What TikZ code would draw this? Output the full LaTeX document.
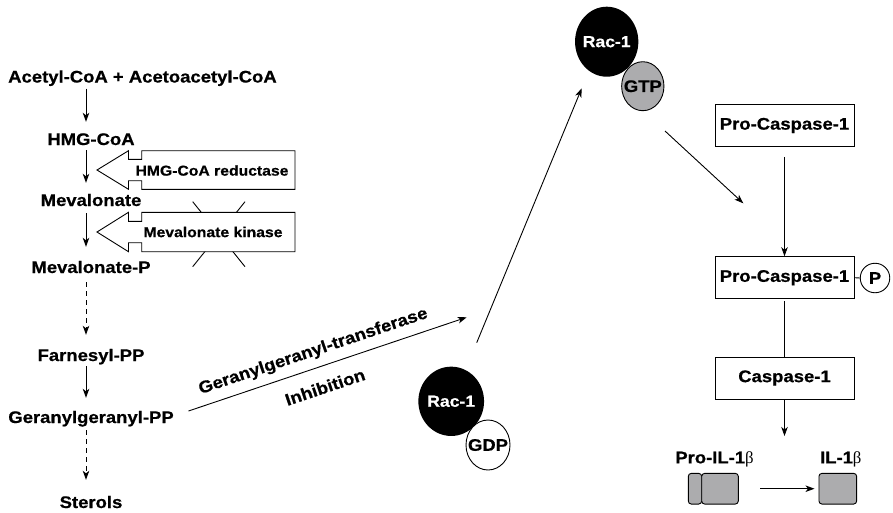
\documentclass[tikz,border=0pt]{standalone}
\usepackage{fontspec}
\setmainfont[FakeStretch=1.1, BoldFeatures={FakeBold=0.6}]{Liberation Sans}
\newfontfamily\betafont{Liberation Serif}
\usetikzlibrary{arrows.meta,shapes.geometric,calc}
\definecolor{gtpgray}{RGB}{172,172,174}
\begin{document}
\begin{tikzpicture}[x=1pt,y=-1pt,
  lbl/.style={font=\fontsize{16.8}{19}\selectfont\bfseries, inner sep=0pt},
  col/.style={lbl, anchor=base, text height=12.5pt, text depth=3.5pt},
  enz/.style={font=\fontsize{14.3}{17}\selectfont\bfseries, inner sep=0pt},
  rac/.style={font=\fontsize{16}{19}\selectfont\bfseries, inner sep=0pt, text=white},
  arr/.style={-{Stealth[length=9pt,width=6.5pt,inset=2.5pt]}, line width=0.9pt},
  dasharr/.style={arr, dash pattern=on 5pt off 4pt},
  ln/.style={line width=0.9pt},
  enzarrow/.style={line width=0.9pt, fill=white, line join=miter},
  box/.style={draw, line width=0.9pt, minimum width=139pt, minimum height=42pt, lbl},
  blob/.style={ellipse, inner sep=0pt},
  prot/.style={draw, line width=0.9pt, fill=gtpgray, rounded corners=3pt, minimum height=30.7pt, inner sep=0pt}]
\useasboundingbox (0,0) rectangle (893,512);

% ---------- mevalonate pathway ----------
\coordinate (colx) at (86,0);
\node[col, anchor=base west] (acetyl) at (8,82.5) {Acetyl-CoA + Acetoacetyl-CoA};
\node[col] (hmg) at (91,145) {HMG-CoA};
\node[col] (mev) at (91,206) {Mevalonate};
\node[col] (mevp) at (91,273) {Mevalonate-P};
\node[col] (farn) at (91,361) {Farnesyl-PP};
\node[col] (ger) at (91,423) {Geranylgeranyl-PP};
\node[col] (sterols) at (91,508) {Sterols};

\draw[arr, shorten <=2.5pt, shorten >=10.5pt] (acetyl.south -| colx) -- (hmg.north -| colx);
\draw[arr, shorten <=1.5pt, shorten >=10.5pt] (hmg.south -| colx) -- (mev.north -| colx);
\draw[arr, shorten <=3.5pt, shorten >=13.5pt] (mev.south -| colx) -- (mevp.north -| colx);
\draw[dasharr, shorten <=5.5pt, shorten >=13.5pt] (mevp.south -| colx) -- (farn.north -| colx);
\draw[arr, shorten <=1.5pt, shorten >=12.5pt] (farn.south -| colx) -- (ger.north -| colx);
\draw[dasharr, shorten <=3.5pt, shorten >=15.5pt] (ger.south -| colx) -- (sterols.north -| colx);

% enzyme block arrows
\draw[enzarrow] (97,170) -- (128.5,150.7) -- (128.5,159.3) -- (141.7,159.3) -- (141.7,150.7)
  -- (295,150.7) -- (295,189.3) -- (141.7,189.3) -- (141.7,180.7) -- (128.5,180.7)
  -- (128.5,189.3) -- cycle;
\node[enz] (hmgr) at (212,170.5) {HMG-CoA reductase};

\draw[ln] (192.7,201.7) -- (245,266.7);
\draw[ln] (245,201.7) -- (192.7,266.7);
\draw[enzarrow] (97,232) -- (128.5,212.3) -- (128.5,221.3) -- (141.7,221.3) -- (141.7,212.3)
  -- (295,212.3) -- (295,251.7) -- (141.7,251.7) -- (141.7,242.7) -- (128.5,242.7)
  -- (128.5,251.7) -- cycle;
\node[enz] (mk) at (213,232) {Mevalonate kinase};

% ---------- geranylgeranyl-transferase ----------
\coordinate (ggend) at (466.7,317.3);
\draw[arr] ([xshift=14.6pt,yshift=7.5pt]ger.east) -- (ggend);
\node[lbl, rotate=18.6] (ggt) at (313.3,351.7) {Geranylgeranyl-transferase};
\node[lbl, rotate=18.6] (inh) at (325,387) {Inhibition};

% ---------- Rac-1 ----------
\node[blob, fill=black, minimum width=65.7pt, minimum height=69.3pt] (racB) at (451.2,401.3) {};
\node[rac] (racBt) at (racB) {Rac-1};
\node[blob, draw, ln, fill=white, minimum width=44pt, minimum height=50pt] (gdp) at (488,445) {};
\node[lbl] (gdpt) at (gdp) {GDP};

\node[blob, fill=black, minimum width=63.3pt, minimum height=70pt] (racA) at (606.7,41.7) {};
\node[rac] (racAt) at (racA) {Rac-1};
\node[blob, draw, ln, fill=gtpgray, minimum width=42.3pt, minimum height=49pt] (gtp) at (642.8,86.2) {};
\node[lbl] (gtpt) at (gtp) {GTP};

\coordinate (r1) at (476.7,342.7);
\coordinate (r2) at (581.7,88.3);
\draw[arr] (r1) -- (r2);

\coordinate (g1) at (665,131);
\coordinate (g2) at (743.3,203.3);
\draw[arr] (g1) -- (g2);

% ---------- caspase ----------
\node[box] (pc1) at (784.5,125.5) {Pro-Caspase-1};
\node[box] (pc2) at (784.5,277.7) {Pro-Caspase-1};
\node[box] (casp) at (784.5,378) {Caspase-1};
\node[circle, draw, ln, minimum size=29.5pt, lbl] (p) at (875,278) {P};
\draw[ln] (pc2.east) -- (p.west);
\draw[arr, shorten <=10pt] (pc1.south) -- (pc2.north);
\draw[ln, shorten <=2pt] (pc2.south) -- (casp.north);
\coordinate (c1) at (784.5,436);
\draw[arr] (casp.south) -- (c1);

% ---------- IL-1 beta ----------
\node[lbl, anchor=base] (proiltxt) at (714.5,463.3) {Pro-IL-1{\betafont\mdseries β}};
\node[lbl, anchor=base] (iltxt) at (840.8,463.3) {IL-1{\betafont\mdseries β}};
\node[prot, minimum width=13.4pt] (proilA) at (695,488.7) {};
\node[prot, minimum width=36.6pt] (proilB) at (720,488.7) {};
\node[prot, minimum width=37.7pt] (il) at (837.8,488.7) {};
\draw[arr, shorten <=21.7pt, shorten >=4pt] (proilB.east) -- (il.west);
\end{tikzpicture}
\end{document}
